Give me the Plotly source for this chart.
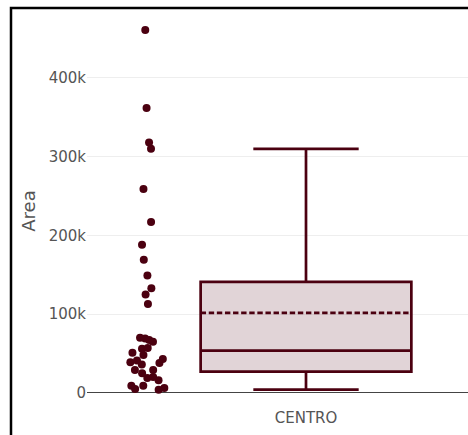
import plotly.graph_objects as go

category = "CENTRO"
area_values = [
    461000, 362000, 318000, 310000, 259000, 217000, 188000, 169000, 149000,
    133000, 125000, 113000,
    70000, 69000, 67000, 65000, 57000, 56000, 51000, 48000, 43000, 41000,
    39000, 38000, 36000, 29000, 29000, 25000, 20000, 19000, 16000, 9000,
    9000, 6000, 5000, 4000,
]
y_ticks = [0, 100000, 200000, 300000, 400000]
y_tick_labels = ["0", "100k", "200k", "300k", "400k"]

maroon = "#4b0010"

fig = go.Figure()
fig.add_trace(go.Box(
    x=[category] * len(area_values),
    y=area_values,
    name=category,
    boxpoints="all",
    boxmean=True,
    jitter=0.2,
    pointpos=-1.5,
    width=0.7,
    marker=dict(color=maroon, size=8),
    line=dict(color=maroon, width=2.7),
    fillcolor="rgba(75,0,16,0.17)",
    showlegend=False,
))

W, H = 468, 435
l, r, t, b = 87, 0, 15, 28
plot_w = W - l - r
plot_h = H - t - b
ppu = 301.0
x_lo = -219 / ppu
x_hi = (plot_w - 219) / ppu

fig.update_layout(
    template="none",
    width=W, height=H,
    margin=dict(l=l, r=r, t=t, b=b, pad=0),
    paper_bgcolor="white",
    plot_bgcolor="white",
    font=dict(family="DejaVu Sans, sans-serif", size=15, color="#555"),
    xaxis=dict(showgrid=False, zeroline=False, range=[x_lo, x_hi],
               ticks="", tickfont=dict(size=15)),
    yaxis=dict(title=dict(text="Area", font=dict(size=18), standoff=8),
               range=[-18000, 480000], tickvals=y_ticks, ticktext=y_tick_labels,
               showgrid=True, gridcolor="#eee", zeroline=True,
               zerolinecolor="#444", zerolinewidth=1, ticks=""),
    shapes=[dict(type="rect", xref="paper", yref="paper",
                 x0=(11 - l) / plot_w, x1=1.2, y0=-0.2, y1=(H - b - 8) / plot_h,
                 line=dict(color="black", width=2.5))],
)

fig.write_html("out.html",
               config={"displayModeBar": False},
               post_script="document.body.style.margin='0';document.body.style.overflow='hidden';")
